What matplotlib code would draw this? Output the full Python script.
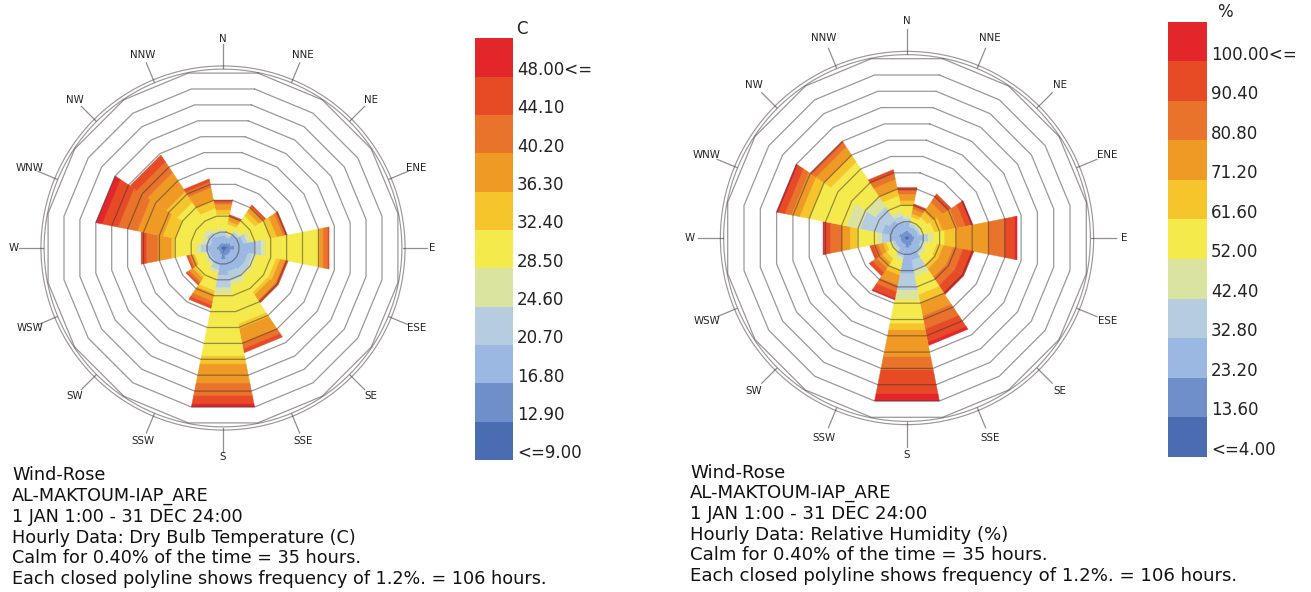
import numpy as np
import matplotlib.pyplot as plt
from matplotlib.patches import Polygon, Circle

# 16 compass sectors, clockwise from north
directions = ['N', 'NNE', 'NE', 'ENE', 'E', 'ESE', 'SE', 'SSE',
              'S', 'SSW', 'SW', 'WSW', 'W', 'WNW', 'NW', 'NNW']
angles = np.arange(16) * 22.5

# legend colours, lowest bin first
legend_colors = ['#4a6cb0', '#6f8fcb', '#9bb8e2', '#b6cde0', '#dbe3a1', '#f5ea4b',
                 '#f5c52b', '#ef9a25', '#e9732a', '#e74b26', '#e3262a']
temp_labels = ['<=9.00', '12.90', '16.80', '20.70', '24.60', '28.50',
               '32.40', '36.30', '40.20', '44.10', '48.00<=']
rh_labels = ['<=4.00', '13.60', '23.20', '32.80', '42.40', '52.00',
             '61.60', '71.20', '80.80', '90.40', '100.00<=']

# thickness of each legend bin per direction, in polyline steps (1 step = 1.2 % = 106 h)
temp_bins = [
    [0.1, 0.2, 0.5, 0.2, 0.2, 0.9, 0.3, 0.35, 0.1, 0.15, 0.0],    # N
    [0.1, 0.2, 0.4, 0.15, 0.15, 0.5, 0.2, 0.25, 0.1, 0.05, 0.0],  # NNE
    [0.15, 0.25, 0.6, 0.2, 0.2, 1.0, 0.3, 0.3, 0.1, 0.1, 0.0],    # NE
    [0.2, 0.3, 0.8, 0.25, 0.25, 1.2, 0.4, 0.4, 0.15, 0.1, 0.0],   # ENE
    [0.3, 0.4, 1.3, 0.4, 0.3, 3.3, 0.05, 0.25, 0.3, 0.07, 0.0],   # E
    [0.2, 0.3, 1.1, 0.3, 0.25, 1.2, 0.25, 0.3, 0.1, 0.1, 0.0],    # ESE
    [0.2, 0.3, 1.1, 0.35, 0.25, 1.1, 0.2, 0.4, 0.1, 0.1, 0.0],    # SE
    [0.2, 0.3, 1.0, 0.6, 0.3, 2.4, 0.3, 0.9, 0.35, 0.25, 0.0],    # SSE
    [0.3, 0.4, 1.0, 0.8, 0.4, 3.9, 0.5, 1.2, 0.8, 0.5, 0.2],      # S
    [0.1, 0.3, 0.7, 0.3, 0.2, 1.1, 0.2, 0.45, 0.25, 0.2, 0.0],    # SSW
    [0.1, 0.2, 0.6, 0.2, 0.2, 0.8, 0.15, 0.25, 0.15, 0.1, 0.0],   # SW
    [0.1, 0.2, 0.6, 0.15, 0.15, 0.6, 0.1, 0.2, 0.1, 0.1, 0.0],    # WSW
    [0.1, 0.3, 0.7, 0.3, 0.3, 1.35, 0.2, 0.85, 0.7, 0.35, 0.0],   # W
    [0.1, 0.2, 0.5, 0.3, 0.3, 1.6, 0.8, 1.6, 1.2, 1.0, 0.4],      # WNW
    [0.1, 0.2, 0.6, 0.3, 0.3, 1.9, 0.8, 1.4, 0.8, 0.5, 0.0],      # NW
    [0.1, 0.2, 0.5, 0.2, 0.2, 1.3, 0.5, 0.8, 0.35, 0.2, 0.0],     # NNW
]

rh_bins = [
    [0.15, 0.3, 0.5, 0.25, 0.2, 0.6, 0.3, 0.4, 0.2, 0.2, 0.0],      # N
    [0.1, 0.25, 0.35, 0.2, 0.1, 0.3, 0.2, 0.3, 0.2, 0.1, 0.0],      # NNE
    [0.1, 0.25, 0.35, 0.15, 0.15, 0.5, 0.4, 0.7, 0.4, 0.2, 0.0],    # NE
    [0.1, 0.25, 0.35, 0.15, 0.15, 0.7, 0.5, 0.9, 0.5, 0.35, 0.1],   # ENE
    [0.15, 0.3, 0.55, 0.3, 0.3, 0.7, 0.7, 2.0, 1.0, 0.6, 0.15],     # E
    [0.1, 0.3, 0.45, 0.2, 0.2, 0.6, 0.4, 0.6, 0.6, 0.55, 0.1],      # ESE
    [0.1, 0.3, 0.55, 0.2, 0.2, 0.6, 0.3, 0.6, 0.6, 0.55, 0.1],      # SE
    [0.1, 0.4, 0.9, 0.6, 0.4, 1.1, 0.5, 0.8, 0.8, 0.8, 0.2],        # SSE
    [0.1, 0.5, 1.6, 1.0, 0.6, 1.45, 0.4, 1.65, 0.8, 1.45, 0.45],    # S
    [0.1, 0.3, 0.55, 0.25, 0.2, 0.6, 0.3, 0.6, 0.4, 0.4, 0.1],      # SSW
    [0.1, 0.3, 0.35, 0.15, 0.1, 0.5, 0.3, 0.4, 0.3, 0.25, 0.0],     # SW
    [0.1, 0.3, 0.35, 0.15, 0.1, 0.3, 0.2, 0.3, 0.3, 0.2, 0.0],      # WSW
    [0.1, 0.3, 0.7, 0.45, 0.3, 1.2, 0.45, 0.5, 0.7, 0.35, 0.1],     # W
    [0.15, 0.35, 1.05, 1.35, 0.85, 2.25, 0.6, 0.5, 0.4, 0.4, 0.1],  # WNW
    [0.1, 0.3, 0.9, 1.0, 0.7, 2.5, 0.5, 0.6, 0.3, 0.1, 0.0],        # NW
    [0.1, 0.3, 0.6, 0.4, 0.3, 0.9, 0.4, 0.6, 0.4, 0.2, 0.0],        # NNW
]

info_common = ['Wind-Rose', 'AL-MAKTOUM-IAP_ARE', '1 JAN 1:00 - 31 DEC 24:00']
info_tail = ['Calm for 0.40% of the time = 35 hours.',
             'Each closed polyline shows frequency of 1.2%. = 106 hours.']

W, H = 1311, 592
fig = plt.figure(figsize=(W / 100, H / 100), dpi=100)
fig.patch.set_facecolor('white')

HALF = 11.25
KV = 1 / np.cos(np.radians(HALF))
LINE = '#3c3030'


def xy(r, a):
    t = np.radians(a)
    return r * np.sin(t), r * np.cos(t)


def draw_rose(cx, cy, unit, bins, label_r):
    span = 14
    size = 2 * span * unit
    ax = fig.add_axes([(cx - size / 2) / W, (H - cy - size / 2) / H, size / W, size / H])
    ax.set_xlim(-span, span)
    ax.set_ylim(-span, span)
    ax.axis('off')
    ax.patch.set_alpha(0)

    for d, ang in enumerate(angles):
        r0 = 0.0
        for b, w in enumerate(bins[d]):
            if w <= 0:
                continue
            r1 = r0 + w
            verts = [xy(r0 * KV, ang - HALF), xy(r1 * KV, ang - HALF),
                     xy(r1 * KV, ang + HALF), xy(r0 * KV, ang + HALF)]
            ax.add_patch(Polygon(verts, closed=True, fc=legend_colors[b],
                                 ec=legend_colors[b], lw=0.3, zorder=2))
            r0 = r1

    # closed polylines, one per 1.2 %
    va = np.append(angles + HALF, angles[0] + HALF)
    for k in range(1, 12):
        px, py = xy(k * KV, va)
        ax.plot(px, py, color=LINE, alpha=0.5, lw=0.9, zorder=3)

    for rc in (11.25, 11.45):
        ax.add_patch(Circle((0, 0), rc, fill=False, ec=LINE, alpha=0.5, lw=0.85, zorder=3))

    for name, ang in zip(directions, angles):
        r_out = 12.85 if len(name) == 1 else 12.6
        tx, ty = xy(np.array([11.3, r_out]), ang)
        ax.plot(tx, ty, color=LINE, alpha=0.55, lw=0.9, zorder=3)
        lx, ly = xy(label_r, ang)
        ax.text(lx, ly, name, ha='center', va='center', fontsize=7.4,
                color='#222222', zorder=4)
    return ax


def draw_legend(x0, y_top, y_bot, width, labels, unit_text, unit_dx):
    ax = fig.add_axes([x0 / W, (H - y_bot) / H, width / W, (y_bot - y_top) / H])
    ax.bar(np.zeros(11), np.ones(11), bottom=np.arange(11), width=1.0,
           color=legend_colors, edgecolor='none')
    ax.set_xlim(-0.5, 0.5)
    ax.set_ylim(0, 11)
    ax.axis('off')
    for i, lab in enumerate(labels):
        ax.text(1.0 + 4 / width, i + 0.17, lab, transform=ax.get_yaxis_transform(),
                ha='left', va='center', fontsize=12, color='#222222')
    ax.text(1.0 + unit_dx / width, 11.25, unit_text, transform=ax.get_yaxis_transform(),
            ha='left', va='center', fontsize=12, color='#222222')


def draw_info(x, y0, lines, size):
    for i, line in enumerate(lines):
        fig.text(x / W, 1 - (y0 + i * 20.7) / H, line, ha='left', va='center',
                 fontsize=size, color='#111111')


draw_rose(223, 248, 15.9, temp_bins, 13.15)
draw_rose(907, 238, 16.3, rh_bins, 13.3)
draw_legend(475, 38.3, 460, 38, temp_labels, 'C', 3)
draw_legend(1168, 21.7, 456.7, 39, rh_labels, '%', 10)

draw_info(12, 475.5, info_common + ['Hourly Data: Dry Bulb Temperature (C)'] + info_tail, 12.7)
draw_info(690, 472.5, info_common + ['Hourly Data: Relative Humidity (%)'] + info_tail, 13.1)

fig.savefig('out.png', dpi=100, facecolor='white')
